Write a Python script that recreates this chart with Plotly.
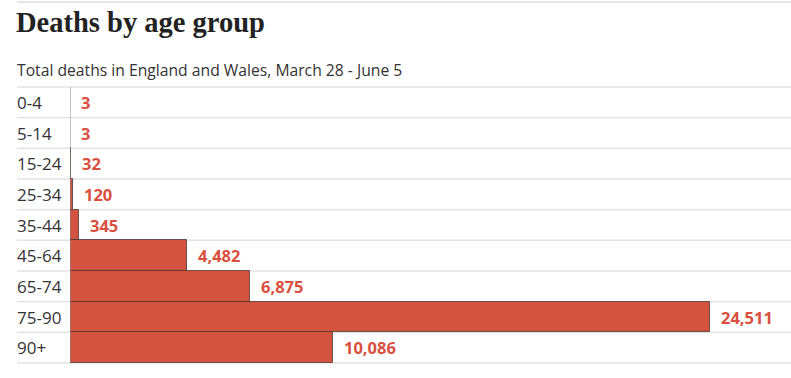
import plotly.graph_objects as go

categories = ["0-4", "5-14", "15-24", "25-34", "35-44", "45-64", "65-74", "75-90", "90+"]
deaths = [3, 3, 32, 120, 345, 4482, 6875, 24511, 10086]
labels = ["3", "3", "32", "120", "345", "4,482", "6,875", "24,511", "10,086"]

W, H = 791, 378
ML, MR, MT, MB = 70, 0, 87, 15
pw = W - ML - MR
xmax = 24511 * pw / 640.0
left_px = 17
lx = -(ML - left_px) / pw

fig = go.Figure()
fig.add_trace(go.Bar(
    y=categories, x=deaths, orientation="h",
    marker=dict(color="#d4533f", line=dict(color="rgba(70,50,45,0.75)", width=1)),
    width=1.0, hoverinfo="skip",
))

annotations = []
for c, v, t in zip(categories, deaths, labels):
    annotations.append(dict(x=v, y=c, xref="x", yref="y", text="<b>%s</b>" % t,
                            showarrow=False, xanchor="left", xshift=9,
                            font=dict(family="Open Sans", size=16.5, color="#d9503f")))
    annotations.append(dict(x=lx, y=c, xref="paper", yref="y", text=c,
                            showarrow=False, xanchor="left", xshift=-2,
                            font=dict(family="Open Sans", size=17, color="#333333")))

annotations.append(dict(x=lx, y=1, xref="paper", yref="paper",
                        text="<b>Deaths by age group</b>", showarrow=False,
                        xanchor="left", yanchor="middle", yshift=(MT - 22), xshift=-3,
                        font=dict(family="Liberation Serif", size=28.5, color="#222222")))
annotations.append(dict(x=lx, y=1, xref="paper", yref="paper",
                        text="Total deaths in England and Wales, March 28 - June 5", showarrow=False,
                        xanchor="left", yanchor="middle", yshift=(MT - 70), xshift=-2,
                        font=dict(family="Open Sans", size=15.7, color="#333333")))

shapes = []
ph = H - MT - MB
n = len(categories)
for i in range(n + 1):
    yp = i / n
    shapes.append(dict(type="line", xref="paper", yref="paper", x0=lx, x1=1, y0=yp, y1=yp,
                       line=dict(color="#e3e3e3", width=1.5), layer="below"))
# top rule
shapes.append(dict(type="line", xref="paper", yref="paper", x0=lx, x1=1,
                   y0=1 + (MT - 2) / ph, y1=1 + (MT - 2) / ph,
                   line=dict(color="#e6e6e6", width=2)))
# zero line
shapes.append(dict(type="line", xref="x", yref="paper", x0=0, x1=0, y0=0, y1=1,
                   line=dict(color="#888888", width=1)))

fig.update_layout(
    width=W, height=H, margin=dict(l=ML, r=MR, t=MT, b=MB),
    paper_bgcolor="white", plot_bgcolor="white",
    showlegend=False, bargap=0,
    xaxis=dict(range=[0, xmax], showgrid=False, zeroline=False, showticklabels=False, fixedrange=True),
    yaxis=dict(categoryorder="array", categoryarray=categories[::-1], showgrid=False,
               showticklabels=False, zeroline=False, fixedrange=True),
    annotations=annotations, shapes=shapes,
)
fig.write_html("out.html", config={"displayModeBar": False},
               post_script="document.body.style.margin='0';document.body.style.overflow='hidden';")
